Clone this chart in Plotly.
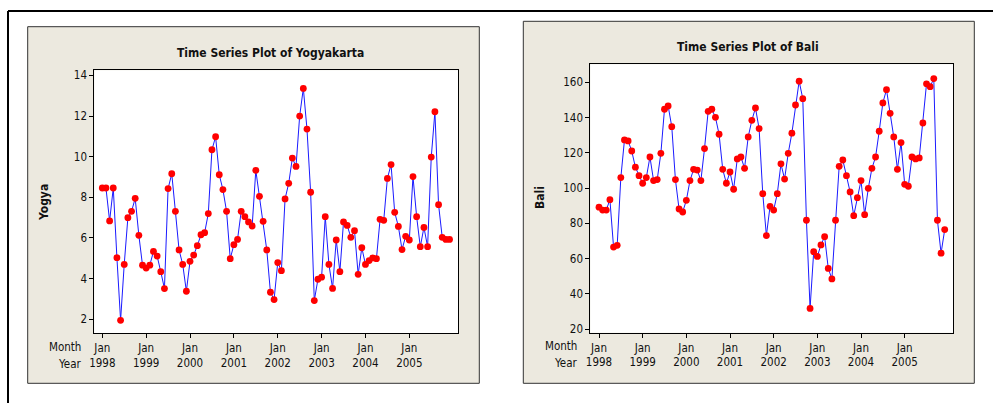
import plotly.graph_objects as go

# ---------------- data ----------------
months_index = list(range(96))  # Jan 1998 .. Dec 2005
yogya = [8.46, 8.46, 6.84, 8.46, 5.03, 1.95, 4.70, 7.00, 7.31, 7.95, 6.13, 4.66,
         4.52, 4.66, 5.34, 5.11, 4.34, 3.51, 8.43, 9.16, 7.31, 5.41, 4.70, 3.38,
         4.85, 5.16, 5.62, 6.16, 6.26, 7.20, 10.34, 10.98, 9.11, 8.38, 7.31, 4.98,
         5.67, 5.93, 7.31, 7.05, 6.79, 6.59, 9.33, 8.05, 6.82, 5.41, 3.33, 2.97,
         4.79, 4.39, 7.92, 8.69, 9.93, 9.52, 12.00, 13.36, 11.36, 8.25, 2.92, 3.97,
         4.07, 7.05, 4.70, 3.52, 5.90, 4.34, 6.79, 6.62, 6.03, 6.36, 4.21, 5.52,
         4.70, 4.89, 5.02, 4.98, 6.92, 6.87, 8.93, 9.61, 7.26, 6.57, 5.43, 6.08,
         5.90, 9.02, 7.05, 5.57, 6.52, 5.57, 9.98, 12.21, 7.64, 6.03, 5.93, 5.93]
bali = [89.1, 87.5, 87.5, 93.4, 66.5, 67.5, 105.9, 127.3, 126.7, 121.0, 111.8, 107.0,
        102.7, 105.9, 117.6, 104.2, 104.8, 119.7, 144.7, 146.6, 134.8, 104.8, 88.1, 86.4,
        93.0, 104.2, 110.6, 110.2, 104.2, 122.4, 143.5, 144.7, 140.1, 130.5, 110.6, 102.7,
        109.1, 99.3, 116.5, 117.6, 111.2, 129.0, 138.4, 145.4, 133.7, 96.8, 73.0, 89.6,
        87.5, 96.8, 113.7, 105.1, 119.7, 131.1, 147.1, 160.6, 150.7, 81.7, 31.7, 63.9,
        61.2, 67.7, 72.4, 54.4, 48.4, 81.7, 112.3, 115.9, 107.0, 97.8, 84.3, 94.5,
        104.2, 84.9, 99.8, 111.2, 117.6, 132.2, 148.3, 155.8, 142.4, 129.0, 110.6, 125.8,
        102.1, 101.0, 117.6, 116.5, 117.1, 136.9, 159.1, 157.5, 162.1, 81.7, 63.0, 76.4]
year_labels = ["1998", "1999", "2000", "2001", "2002", "2003", "2004", "2005"]
tick_positions = [12 * i for i in range(len(year_labels))]
tick_text = ["Jan<br>" + y for y in year_labels]
yogya_ticks = [2, 4, 6, 8, 10, 12, 14]
bali_ticks = [20, 40, 60, 80, 100, 120, 140, 160]

W, H = 993, 403
def px(x):
    return x / W
def py(y):
    return 1 - y / H

FONT = "DejaVu Sans Condensed, DejaVu Sans, Liberation Sans"
BEIGE = "#ECE9DF"
TXT = "#111111"

fig = go.Figure()
fig.add_trace(go.Scatter(x=months_index, y=yogya, mode="lines+markers",
                         line=dict(color="#1a1aff", width=1),
                         marker=dict(color="#ff0000", size=6.8),
                         xaxis="x", yaxis="y", showlegend=False))
fig.add_trace(go.Scatter(x=months_index, y=bali, mode="lines+markers",
                         line=dict(color="#1a1aff", width=1),
                         marker=dict(color="#ff0000", size=6.8),
                         xaxis="x2", yaxis="y2", showlegend=False))

axis_common = dict(showgrid=False, zeroline=False, showline=True, linecolor="black",
                   linewidth=1, mirror=True, ticks="outside", ticklen=4, tickcolor="black",
                   automargin=False,
                   tickfont=dict(family=FONT, size=11.5, color=TXT))

fig.update_layout(
    template="none",
    width=W, height=H, autosize=False, margin=dict(l=0, r=0, t=0, b=0, pad=0),
    paper_bgcolor="white", plot_bgcolor="white",
    xaxis=dict(domain=[px(94.3), px(458.3)], range=[-2.19, 97.4],
               tickvals=tick_positions, ticktext=tick_text, anchor="y", **axis_common),
    yaxis=dict(domain=[py(333.3), py(70.3)], range=[1.31, 14.25],
               tickvals=yogya_ticks, anchor="x", **axis_common),
    xaxis2=dict(domain=[px(590.3), px(953.3)], range=[-2.39, 97.36],
                tickvals=tick_positions, ticktext=tick_text, anchor="y2", **axis_common),
    yaxis2=dict(domain=[py(332.7), py(64.3)], range=[17.9, 170.2],
                tickvals=bali_ticks, anchor="x2", **axis_common),
)

shapes = [
    dict(type="rect", xref="paper", yref="paper", x0=px(27.7), x1=px(479.3),
         y0=py(383.3), y1=py(26.7), fillcolor=BEIGE, line=dict(color="#333", width=1),
         layer="below"),
    dict(type="rect", xref="paper", yref="paper", x0=px(523.3), x1=px(974.3),
         y0=py(383.3), y1=py(21.3), fillcolor=BEIGE, line=dict(color="#333", width=1),
         layer="below"),
    dict(type="rect", xref="paper", yref="paper", x0=px(94.3), x1=px(458.3),
         y0=py(333.3), y1=py(70.3), fillcolor="white", line=dict(width=0), layer="below"),
    dict(type="rect", xref="paper", yref="paper", x0=px(590.3), x1=px(953.3),
         y0=py(332.7), y1=py(64.3), fillcolor="white", line=dict(width=0), layer="below"),
    dict(type="line", xref="paper", yref="paper", x0=px(8), x1=1, y0=py(11), y1=py(11),
         line=dict(color="black", width=2)),
    dict(type="line", xref="paper", yref="paper", x0=px(8), x1=px(8), y0=0, y1=py(11),
         line=dict(color="black", width=2)),
]
fig.update_layout(shapes=shapes)

def ann(text, x, y, size=11.5, bold=False, xanchor="center", angle=0):
    return dict(text=("<b>%s</b>" % text) if bold else text, x=px(x), y=py(y),
                xref="paper", yref="paper", showarrow=False, textangle=angle,
                font=dict(family=FONT, size=size, color=TXT),
                xanchor=xanchor, yanchor="middle")

annotations = [
    ann("Time Series Plot of Yogyakarta", 270.7, 53, size=12, bold=True),
    ann("Time Series Plot of Bali", 748, 47, size=12, bold=True),
    ann("Yogya", 44, 203, size=12, bold=True, angle=-90),
    ann("Bali", 540, 198, size=12, bold=True, angle=-90),
    ann("Month", 83, 347, xanchor="right"),
    ann("Year", 83, 364, xanchor="right"),
    ann("Month", 579, 346, xanchor="right"),
    ann("Year", 579, 363, xanchor="right"),
]
fig.update_layout(annotations=annotations)

fig.write_html("out.html",
               config={"displayModeBar": False},
               post_script="document.body.style.margin='0';"
                           "document.body.style.padding='0';"
                           "document.body.style.overflow='hidden';"
                           "var d=document.getElementById('{plot_id}');"
                           "d.style.position='absolute';d.style.left='0px';d.style.top='0px';")
